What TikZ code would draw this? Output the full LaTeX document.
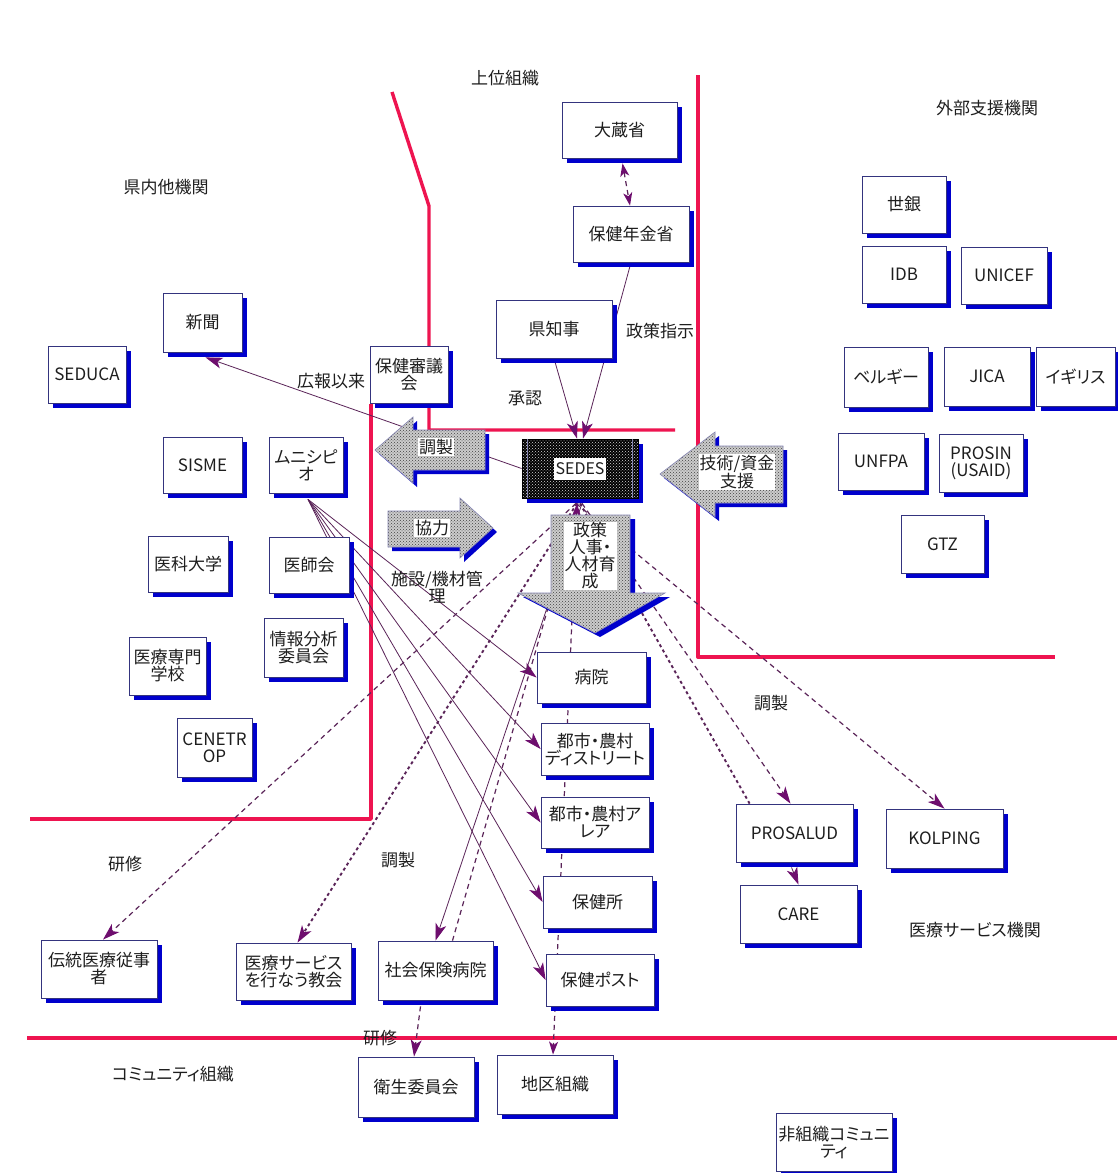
\documentclass[tikz,border=0pt]{standalone}
\usepackage{fontspec}
\setmainfont{Noto Sans CJK JP}[RawFeature=+palt]
\usetikzlibrary{arrows.meta,shadows,patterns,backgrounds,calc}

\definecolor{wallred}{HTML}{EE1450}
\definecolor{conn}{HTML}{5A2458}
\definecolor{tipfill}{HTML}{6E0E6E}
\definecolor{edge}{HTML}{34347E}
\definecolor{shadowblue}{HTML}{0000CC}
\definecolor{ink}{HTML}{1E1E1E}

\tikzset{
  box/.style={draw=edge, line width=0.8pt, fill=white, align=center, inner sep=1pt,
    text=ink, font=\fontsize{17}{17}\selectfont,
    drop shadow={shadow xshift=5pt, shadow yshift=-5pt, fill=shadowblue, opacity=1}},
  sz/.style 2 args={minimum width=#1pt, minimum height=#2pt},
  lbl/.style={text=ink, font=\fontsize{17}{17}\selectfont, align=center, inner sep=0pt},
  wall/.style={draw=wallred, line width=3.4pt},
  headed/.style={-{Stealth[length=17pt, width=11pt, inset=4.5pt, fill=tipfill, color=tipfill]}},
  bothheads/.style={{Stealth[length=13pt, width=9pt, inset=3.5pt, fill=tipfill, color=tipfill]}-{Stealth[length=13pt, width=9pt, inset=3.5pt, fill=tipfill, color=tipfill]}},
  link/.style={draw=conn, line width=0.8pt},
  dlink/.style={draw=conn, line width=1.2pt, dash pattern=on 5pt off 4pt},
  dotlink/.style={draw=conn, line width=1.9pt, dash pattern=on 3pt off 3pt},
  blockarrow/.style={draw=edge!60, line width=0.6pt, preaction={fill=gray!40},
    pattern=crosshatch dots, pattern color=black!75},
  tag/.style={fill=white, inner sep=1pt, text=ink, font=\fontsize{17}{17}\selectfont, align=center}
}

\begin{document}
\begin{tikzpicture}[x=1pt,y=-1pt]
\useasboundingbox (0,0) rectangle (1117,1173);

% ---- upper organisations
\node[box, sz={115}{56}] (okura) at (619.5,130) {大蔵省};
\node[box, sz={116}{56}] (nenkin) at (631,234) {保健年金省};
\node[box, sz={116}{58}] (chiji) at (554,329) {県知事};
\node[box, sz={78}{57}] (shingi) at (409,374.5) {保健審議\\会};

% ---- other organisations in the department
\node[box, sz={79}{59}] (shinbun) at (202.5,322.5) {新聞};
\node[box, sz={78}{57}] (seduca) at (87,374.5) {SEDUCA};
\node[box, sz={79}{56}] (sisme) at (202.5,465) {SISME};
\node[box, sz={74}{56}] (muni) at (306,465) {ムニシピ\\オ};
\node[box, sz={80}{56}] (ika) at (188,564) {医科大学};
\node[box, sz={80}{56}] (ishikai) at (309,565) {医師会};
\node[box, sz={79}{59}] (joho) at (303.5,647.5) {情報分析\\委員会};
\node[box, sz={77}{58}] (senmon) at (167.5,666) {医療専門\\学校};
\node[box, sz={75}{59}] (cenetrop) at (214.5,747.5) {CENETR\\OP};

% ---- external support
\node[box, sz={84}{57}] (sekigin) at (904,204.5) {世銀};
\node[box, sz={84}{57}] (idb) at (904,274.5) {IDB};
\node[box, sz={86}{57}] (unicef) at (1004,275.5) {UNICEF};
\node[box, sz={84}{60}] (belgie) at (886,377) {ベルギー};
\node[box, sz={86}{59}] (jica) at (987,376.5) {JICA};
\node[box, sz={79}{59}] (igirisu) at (1075.5,376.5) {イギリス};
\node[box, sz={86}{57}] (unfpa) at (881,461.5) {UNFPA};
\node[box, sz={84}{58}] (prosin) at (981,463) {PROSIN\\(USAID)};
\node[box, sz={83}{58}] (gtz) at (942.5,544) {GTZ};

% ---- health service chain
\node[box, sz={109}{51}] (byoin) at (591.5,677.5) {病院};
\node[box, sz={108}{52}] (district) at (595,749) {都市・農村\\ディストリート};
\node[box, sz={108}{51}] (area) at (595,822.5) {都市・農村ア\\レア};
\node[box, sz={109}{52}] (hokenjo) at (597.5,902) {保健所};
\node[box, sz={108}{52}] (post) at (600,980) {保健ポスト};
\node[box, sz={117}{58}] (prosalud) at (794.5,833) {PROSALUD};
\node[box, sz={117}{59}] (kolping) at (944.5,838.5) {KOLPING};
\node[box, sz={117}{58}] (care) at (798.5,914) {CARE};
\node[box, sz={116}{58}] (dento) at (99,969) {伝統医療従事\\者};
\node[box, sz={115}{57}] (kyokai) at (293.5,971.5) {医療サービス\\を行なう教会};
\node[box, sz={115}{59}] (shaho) at (435.5,970.5) {社会保険病院};

% ---- community
\node[box, sz={116}{60}] (eisei) at (416,1087) {衛生委員会};
\node[box, sz={116}{59}] (chiku) at (555,1084.5) {地区組織};
\node[box, sz={116}{58}] (hisoshiki) at (834,1142) {非組織コミュニ\\ティ};

% ---- SEDES
\node[minimum width=116pt, minimum height=59pt, draw=black, line width=0.8pt,
  drop shadow={shadow xshift=5pt, shadow yshift=-5pt, fill=shadowblue, opacity=1},
  preaction={fill=black}, pattern=crosshatch dots, pattern color=white!85!black]
  (sedes) at (580,468.5) {};
\draw[edge!60!white, line width=0.7pt] ([xshift=6pt]sedes.north west) -- ([xshift=6pt]sedes.south west);
\draw[edge!60!white, line width=0.7pt] ([xshift=-6pt]sedes.north east) -- ([xshift=-6pt]sedes.south east);
\node[fill=white, inner sep=2pt, minimum height=22pt, text=ink, font=\fontsize{16}{16}\selectfont] (sedeslbl) at (sedes) {SEDES};

% ---- block arrows
% coordination (to the left)
\fill[shadowblue] (379,454) -- (417,421) -- (417,434) -- (489,434) -- (489,474) -- (417,474) -- (417,487) -- cycle;
\path[blockarrow] (375,450) -- (413,417) -- (413,430) -- (485,430) -- (485,470) -- (413,470) -- (413,483) -- cycle;
\node[tag] (choseitag) at (436,447) {調製};

% technical / financial support
\fill[shadowblue] (664,478) -- (719,436) -- (719,450) -- (787,450) -- (787,507) -- (719,507) -- (719,521) -- cycle;
\path[blockarrow] (660,474) -- (715,432) -- (715,446) -- (783,446) -- (783,503) -- (715,503) -- (715,517) -- cycle;
\node[tag] (gijutsutag) at (737,472) {技術/資金\\支援};

% cooperation (to the right)
\fill[shadowblue] (392,515) -- (464,515) -- (464,502) -- (497,532) -- (464,562) -- (464,551) -- (392,551) -- cycle;
\path[blockarrow] (388,511) -- (460,511) -- (460,498) -- (493,528) -- (460,558) -- (460,547) -- (388,547) -- cycle;
\node[tag] (kyoryokutag) at (432,528) {協力};

% policy, personnel and training (downwards)
\fill[shadowblue] (556,519) -- (635,519) -- (635,597) -- (670,597) -- (600,637) -- (523,597) -- (556,597) -- cycle;
\path[blockarrow] (551,515) -- (630,515) -- (630,593) -- (665,593) -- (595,633) -- (518,593) -- (551,593) -- cycle;
\node[tag] (seisakutag) at (590,556) {政策\\人事・\\人材育\\成};

% ---- free labels
\node[lbl] (l1) at (505,78) {上位組織};
\node[lbl] (l2) at (987,108) {外部支援機関};
\node[lbl] (l3) at (166,187) {県内他機関};
\node[lbl] (l4) at (660,331) {政策指示};
\node[lbl] (l5) at (331,381) {広報以来};
\node[lbl] (l6) at (525,398) {承認};
\node[lbl] (l7) at (437,587) {施設/機材管\\理};
\node[lbl] (l8) at (771,703) {調製};
\node[lbl] (l9) at (125,864) {研修};
\node[lbl] (l10) at (398,860) {調製};
\node[lbl] (l11) at (380,1038) {研修};
\node[lbl] (l12) at (173,1074) {コミュニティ組織};
\node[lbl] (l13) at (975,930) {医療サービス機関};

% ---- boundaries and connectors, kept behind the boxes
\begin{pgfonlayer}{background}
\fill[white] (0,0) rectangle (1117,1173);
\draw[wall, line join=round] (392,92) -- (429,206) -- (429,430) -- (675,430);
\draw[wall, line join=round] (698,75) -- (698,657) -- (1055,657);
\draw[wall, line join=round] (371,404) -- (371,819) -- (30,819);
\draw[wall] (27,1038) -- (1117,1038);

\draw[dlink, bothheads] ($(okura.south)+(3,5)$) -- ($(nenkin.north)+(-1,0)$);
\draw[link, headed] (nenkin.south) -- ($(sedes.north)+(3,0)$);
\draw[link, headed] (chiji.south) -- ($(sedes.north)+(-3,0)$);
\draw[link, headed] (sedes.west) -- ($(shinbun.south)+(3,5)$);
\foreach \tg in {byoin,district,area,hokenjo,post}
  \draw[link, headed] ($(muni.south)+(2,6)$) -- (\tg.west);
\draw[link, headed] ($(sedes.south)+(2,5)$) -- (shaho.north);
\draw[dlink] ($(sedes.south)+(-2,5)$) -- ($(shaho.north)+(17,0)$);
\draw[dlink, headed] ($(sedes.south)+(-4,5)$) -- ($(dento.north)+(4,0)$);
\draw[dotlink, headed] ($(sedes.south)+(-3,5)$) -- ($(kyokai.north)+(4,0)$);
\draw[dotlink] ($(sedes.south)+(0,5)$) -- ($(prosalud.north west)+(14,0)$);
\draw[dlink, headed] ($(sedes.south)+(2,5)$) -- ($(prosalud.north)+(-4,0)$);
\draw[dlink, headed] ($(sedes.south)+(-4,5)$) -- (kolping.north);
\draw[dlink, bothheads] ($(sedes.south)+(-3,5)$) -- ($(chiku.north)+(-2,0)$);
\draw[dlink, headed] ($(shaho.south)+(-15,6)$) -- ($(eisei.north)+(-2,0)$);
\draw[link, headed] ($(prosalud.south)+(-3,5)$) -- (care.north);
\end{pgfonlayer}
\end{tikzpicture}
\end{document}
